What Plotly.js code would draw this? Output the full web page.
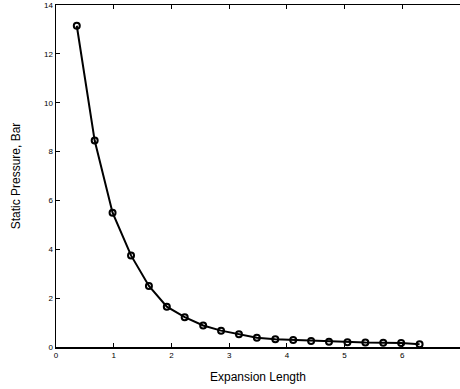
<!DOCTYPE html>
<html><head><meta charset="utf-8">
<script src="https://cdn.plot.ly/plotly-3.0.1.min.js"></script>
<style>html,body{margin:0;padding:0;background:#fff;overflow:hidden}#c{width:460px;height:389px}</style>
</head><body><div id="c"></div>
<script>
const expansionLength = [0.36,0.67,0.98,1.30,1.61,1.92,2.23,2.55,2.86,3.17,3.48,3.80,4.11,4.42,4.73,5.05,5.36,5.67,5.98,6.30];
const staticPressure = [13.15,8.45,5.5,3.75,2.5,1.65,1.22,0.88,0.67,0.52,0.38,0.32,0.29,0.25,0.22,0.19,0.18,0.17,0.16,0.11];
const xTicks = [0,1,2,3,4,5,6];
const yTicks = [0,2,4,6,8,10,12,14];

const data = [{
  x: expansionLength, y: staticPressure, type: 'scatter', mode: 'lines+markers',
  line: {color: '#000', width: 2},
  marker: {symbol: 'circle-open', size: 6, color: '#000', line: {width: 2, color: '#000'}},
  cliponaxis: false
}];
const axisCommon = {
  showgrid: false, zeroline: false, showline: true, linecolor: '#000', linewidth: 1.5,
  ticks: 'inside', ticklen: 4, tickcolor: '#000', tickwidth: 1,
  tickfont: {family: 'Arial, Liberation Sans, sans-serif', size: 8, color: '#000'}
};
const layout = {
  width: 460, height: 389,
  margin: {l: 56, r: 0, t: 5, b: 42},
  paper_bgcolor: '#fff', plot_bgcolor: '#fff', showlegend: false,
  xaxis: Object.assign({}, axisCommon, {
    mirror: 'ticks',
    range: [0, 7], tickvals: xTicks, ticktext: xTicks.map(String),
    title: {text: 'Expansion Length', font: {family: 'Arial, Liberation Sans, sans-serif', size: 12, color: '#000'}, standoff: 13}
  }),
  yaxis: Object.assign({}, axisCommon, {
    mirror: false,
    range: [0, 14], tickvals: yTicks, ticktext: yTicks.map(String),
    title: {text: 'Static Pressure, Bar', font: {family: 'Arial, Liberation Sans, sans-serif', size: 12, color: '#000'}, standoff: 21}
  }),
  yaxis2: {
    overlaying: 'y', side: 'right', range: [0, 14], tickvals: yTicks,
    showticklabels: false, showgrid: false, zeroline: false, showline: false,
    ticks: 'inside', ticklen: 3, tickcolor: '#777', tickwidth: 1
  }
};
Plotly.newPlot('c', data, layout, {displayModeBar: false, staticPlot: true});
</script></body></html>
